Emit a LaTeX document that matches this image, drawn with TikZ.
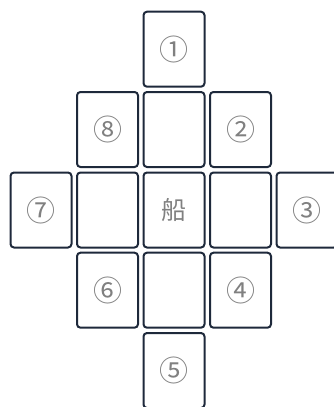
\documentclass[tikz,border=0pt]{standalone}
\usepackage{fontspec}
\newfontfamily\cjk{Noto Sans CJK SC}
\definecolor{boxline}{HTML}{1E293B}
\definecolor{txt}{HTML}{808080}
\begin{document}
\begin{tikzpicture}[x=1pt,y=-1pt,
  cell/.style={draw=boxline, line width=2pt, rounded corners=3.5pt, fill=white,
    minimum width=61pt, minimum height=75pt, inner sep=0pt,
    font=\cjk\fontsize{29}{29}\selectfont, text=txt},
  shipcell/.style={cell, font=\cjk\fontsize{25}{25}\selectfont}]
\useasboundingbox (0,0) rectangle (334,407);
\clip (0,0) rectangle (334,407);
\node[cell] (n1) at (174,49.2) {①};
\node[cell] (r2a) at (107.5,129.5) {⑧};
\node[cell] (r2b) at (174,129.5) {};
\node[cell] (r2c) at (240.5,129.5) {②};
\node[cell] (r3a) at (41,210) {⑦};
\node[cell] (r3b) at (107.5,210) {};
\node[shipcell] (ship) at (174,210) {船};
\node[cell] (r3d) at (240.5,210) {};
\node[cell] (r3e) at (307,210) {③};
\node[cell] (r4a) at (107.5,290.2) {⑥};
\node[cell] (r4b) at (174,290.2) {};
\node[cell] (r4c) at (240.5,290.2) {④};
\node[cell] (n5) at (174,370.5) {⑤};
\end{tikzpicture}
\end{document}
